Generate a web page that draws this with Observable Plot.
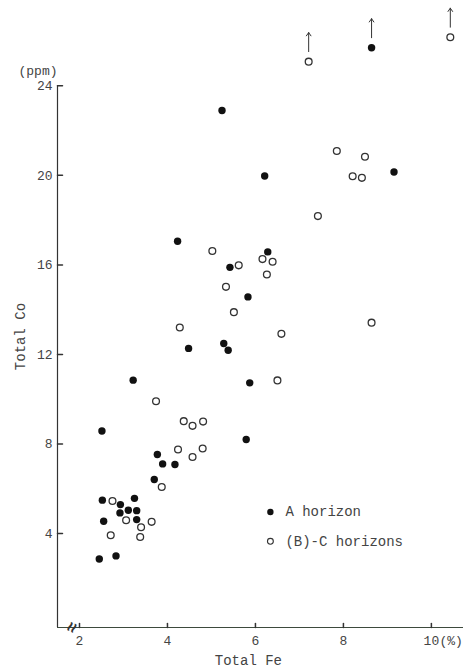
<!DOCTYPE html>
<html><head><meta charset="utf-8">
<script src="https://cdn.jsdelivr.net/npm/d3@7"></script>
<script src="https://cdn.jsdelivr.net/npm/@observablehq/plot@0.6"></script>
<style>body{margin:0;background:#fff}</style>
</head><body><div id="chart"></div>
<script>
// A horizon (filled)
const aFe = [5.24, 6.21, 4.23, 6.28, 5.42, 5.83, 4.48, 5.28, 5.38, 3.22, 5.87, 2.51, 5.79, 3.77, 3.89, 4.17, 3.70, 2.52, 2.93, 3.25, 2.92, 3.11, 3.30, 3.30, 2.55, 2.45, 2.83, 9.15, 8.64];
const aCo = [22.9, 19.97, 17.06, 16.58, 15.89, 14.57, 12.27, 12.49, 12.19, 10.85, 10.73, 8.58, 8.2, 7.53, 7.11, 7.08, 6.41, 5.49, 5.29, 5.57, 4.92, 5.04, 5.02, 4.62, 4.55, 2.86, 3.0, 20.15, 25.7];
// (B)-C horizons (open)
const bFe = [7.21, 10.43, 7.85, 8.49, 8.21, 8.42, 7.42, 5.02, 5.62, 6.16, 6.39, 6.26, 5.33, 5.51, 4.28, 6.59, 8.64, 6.50, 3.74, 4.37, 4.57, 4.81, 4.24, 4.80, 4.57, 3.87, 2.75, 3.06, 3.40, 3.64, 2.71, 3.38];
const bCo = [25.08, 26.17, 21.09, 20.83, 19.96, 19.89, 18.18, 16.62, 15.98, 16.26, 16.14, 15.57, 15.02, 13.89, 13.2, 12.92, 13.42, 10.84, 9.91, 9.02, 8.81, 9.0, 7.75, 7.8, 7.42, 6.08, 5.45, 4.59, 4.28, 4.52, 3.92, 3.84];

const xTicks = [2, 4, 6, 8, 10];
const xTickLabels = ["2", "4", "6", "8", "10"];
const yTicks = [4, 8, 12, 16, 20, 24];
const yTickLabels = ["4", "8", "12", "16", "20", "24"];
const seriesNames = ["A horizon", "(B)-C horizons"];
const xLabel = "Total Fe", yLabel = "Total Co", yUnit = "(ppm)", xUnit = "(%)";
const axisTop = 24;

const X0 = 1.5, X1 = 10.73, Y0 = -0.2, Y1 = 27.5;
const A = aFe.map((fe, i) => ({fe, co: aCo[i]}));
const B = bFe.map((fe, i) => ({fe, co: bCo[i]}));
const off = A.concat(B).filter(d => d.co > axisTop);
const legend = [{fe: 6.34, co: 4.96, name: seriesNames[0], filled: true}, {fe: 6.34, co: 3.65, name: seriesNames[1], filled: false}];

const line = {draw(ctx, l) { ctx.moveTo(0, 0); ctx.lineTo(0, -l); }};
const ink = "#333";
const font = "'Liberation Mono', 'DejaVu Sans Mono', monospace";

const chart = Plot.plot({
  width: 463, height: 670,
  marginLeft: 57, marginRight: 0, marginTop: 7, marginBottom: 43,
  x: {domain: [X0, X1], axis: null},
  y: {domain: [Y0, Y1], axis: null},
  style: {fontFamily: font, fontSize: "13px", color: "#444", background: "#fff"},
  marks: [
    Plot.ruleX([X0], {y1: Y0, y2: axisTop, stroke: ink, strokeWidth: 1.2}),
    Plot.ruleY([Y0], {x1: X0, x2: X1, stroke: "#3d4a3d", strokeWidth: 1.2}),
    Plot.vector(yTicks, {x: X0, y: d => d, length: 5, rotate: 90, anchor: "start", shape: line, stroke: ink}),
    Plot.vector(xTicks, {x: d => d, y: Y0, length: 4, rotate: 0, anchor: "start", shape: line, stroke: ink}),
    Plot.text(yTicks, {x: X0, y: d => d, text: (d, i) => yTickLabels[i], textAnchor: "end", dx: -5, fill: "#444"}),
    Plot.text(xTicks, {x: d => d, y: Y0, text: (d, i) => xTickLabels[i], dy: 13, fill: "#444"}),
    Plot.text([xUnit], {x: xTicks[xTicks.length - 1], y: Y0, text: d => d, dy: 13, dx: 8, textAnchor: "start", fill: "#444"}),
    Plot.text([yUnit], {x: X0, y: axisTop, text: d => d, dy: -15, dx: 0, textAnchor: "end", fill: "#444"}),
    Plot.text([yLabel], {x: X0, y: 12.8, text: d => d, dx: -37, rotate: -90, fontSize: 14, fill: "#444"}),
    Plot.text([xLabel], {x: 5.84, y: Y0, text: d => d, dy: 33, fontSize: 14, fill: "#444"}),
    Plot.text(["\u2248"], {x: 1.83, y: Y0, text: d => d, rotate: -65, fontSize: 18, fontWeight: "bold", fill: ink}),
    Plot.dot(B, {x: "fe", y: "co", r: 3.4, stroke: ink, strokeWidth: 1.3, fill: "none"}),
    Plot.dot(A, {x: "fe", y: "co", r: 3.7, fill: "#111", stroke: "none"}),
    Plot.arrow(off, {x: "fe", y1: d => d.co + 0.45, y2: d => d.co + 1.3, stroke: ink, strokeWidth: 1, headLength: 6, headAngle: 70, insetStart: 0, insetEnd: 0}),
    Plot.dot(legend, {x: "fe", y: "co", r: d => d.filled ? 3.3 : 2.8, fill: d => d.filled ? "#111" : "none", stroke: d => d.filled ? "none" : ink, strokeWidth: 1.1}),
    Plot.text(legend, {x: "fe", y: "co", text: "name", dx: 15, textAnchor: "start", fontSize: 14, fill: "#444"})
  ]
});
document.getElementById("chart").append(chart);
</script>
</body></html>
